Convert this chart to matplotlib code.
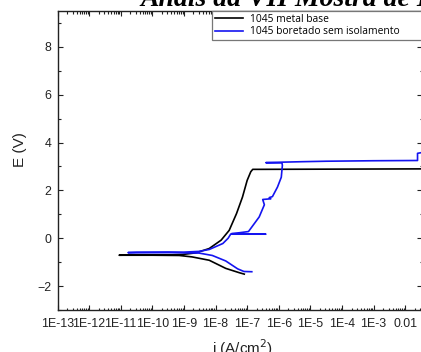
import numpy as np
import matplotlib
matplotlib.use("Agg")
import matplotlib.pyplot as plt
from matplotlib.ticker import FixedLocator, FuncFormatter, MultipleLocator

# 1045 metal base (cathodic branch, then anodic branch)
base_i = [8.1e-8, 5.6e-8, 2.1e-8, 6.3e-9, 1.8e-9, 7.1e-10, 1.0e-10, 8.9e-12,
          3.2e-11, 3.0e-10, 8.9e-10, 2.4e-9, 6.3e-9, 1.5e-8, 2.7e-8, 4.6e-8,
          7.1e-8, 1.0e-7, 1.3e-7, 1.5e-7, 2.5e-7, 3.5e-2]
base_E = [-1.50, -1.44, -1.26, -0.92, -0.78, -0.72, -0.71, -0.71,
          -0.70, -0.70, -0.68, -0.61, -0.43, -0.08, 0.33, 1.03,
          1.72, 2.42, 2.78, 2.88, 2.88, 2.90]

# 1045 boretado sem isolamento
bor_i = [1.4e-7, 7.9e-8, 5.0e-8, 2.1e-8, 7.9e-9, 3.0e-9, 3.2e-10, 1.7e-11,
         3.2e-11, 1.0e-9, 3.0e-9, 6.3e-9, 1.7e-8, 2.5e-8, 3.0e-8, 3.9e-7,
         3.2e-8, 5.0e-8, 1.1e-7, 2.4e-7, 3.5e-7, 3.1e-7, 5.6e-7, 5.0e-7,
         6.3e-7, 9.1e-7, 1.2e-6, 1.3e-6, 1.26e-6, 3.9e-7, 1.26e-6, 5.5e-6,
         3.2e-5, 1.0e-3, 2.45e-2, 2.45e-2, 4.0e-2]
bor_E = [-1.40, -1.39, -1.28, -0.95, -0.72, -0.62, -0.60, -0.60,
         -0.59, -0.58, -0.55, -0.47, -0.22, 0.00, 0.17, 0.17,
         0.19, 0.22, 0.28, 0.89, 1.40, 1.62, 1.65, 1.70,
         1.74, 2.14, 2.55, 3.05, 3.15, 3.16, 3.18, 3.20,
         3.22, 3.24, 3.25, 3.55, 3.60]

x_ticks = [1e-13, 1e-12, 1e-11, 1e-10, 1e-9, 1e-8, 1e-7, 1e-6, 1e-5, 1e-4, 1e-3, 1e-2, 1e-1]
x_tick_labels = ["1E-13", "1E-12", "1E-11", "1E-10", "1E-9", "1E-8", "1E-7",
                 "1E-6", "1E-5", "1E-4", "1E-3", "0.01", "0.1"]

W, H = 421, 352
fig = plt.figure(figsize=(W / 100, H / 100), dpi=100)
left, right, bottom, top = 57.5, 422.3, 310, 11
ax = fig.add_axes([left / W, 1 - bottom / H, (right - left) / W, (bottom - top) / H])

ax.plot(base_i, base_E, color="black", lw=1.2, solid_joinstyle="round")
ax.plot(bor_i, bor_E, color="#1414f0", lw=1.2, solid_joinstyle="round")

ax.set_xscale("log")
ax.set_xlim(1e-13, 10 ** -1.46)
ax.set_ylim(-3, 9.5)

minor_x = [m * t for t in x_ticks for m in range(2, 10)]
ax.xaxis.set_major_locator(FixedLocator(x_ticks))
ax.xaxis.set_major_formatter(FuncFormatter(lambda v, p: x_tick_labels[x_ticks.index(v)] if v in x_ticks else ""))
ax.xaxis.set_minor_locator(FixedLocator(minor_x))
ax.xaxis.set_minor_formatter(FuncFormatter(lambda v, p: ""))
ax.yaxis.set_major_locator(MultipleLocator(2))
ax.yaxis.set_minor_locator(MultipleLocator(1))

ax.tick_params(which="both", direction="in", top=True, right=True, width=0.8, colors="#222222")
ax.tick_params(which="major", length=3.4)
ax.tick_params(which="minor", length=1.8)
ax.tick_params(axis="x", which="major", pad=5.6, labelsize=8.9, labelcolor="#222222")
ax.tick_params(axis="y", which="major", pad=4.2, labelsize=8.9, labelcolor="#222222")
for lab in ax.get_xticklabels() + ax.get_yticklabels():
    lab.set_fontfamily("Liberation Sans")
for s in ax.spines.values():
    s.set_linewidth(1.0)
    s.set_color("#222222")

ax.set_xlabel("i (A/cm$^2$)", fontsize=11, fontfamily="Liberation Sans", color="#222222")
ax.set_ylabel("E (V)", fontsize=11, fontfamily="Liberation Sans", color="#222222")
ax.xaxis.set_label_coords(0.508, -0.092)
ax.yaxis.set_label_coords(-0.084, 0.535)

# legend anchored at its top-left corner, running off the right edge
lx0 = (211.7 - left) / (right - left)
leg = ax.legend(["1045 metal base", "1045 boretado sem isolamento"],
                loc="upper left", bbox_to_anchor=(lx0, 0, 1.02 - lx0, 1.0), mode="expand",
                frameon=True, fancybox=False, framealpha=1, edgecolor="#777777",
                prop={"family": "Open Sans", "size": 7.4}, handlelength=2.7,
                handletextpad=0.75, borderpad=0.3, labelspacing=0.1, borderaxespad=0)
leg.get_frame().set_linewidth(0.9)

fig.text(140 / W, 1 - 6.5 / H, "Anais da VII Mostra de Docentes", fontfamily="Liberation Serif",
         fontweight="bold", fontstyle="italic", fontsize=20, va="baseline", ha="left")

fig.savefig("out.png", dpi=100)
